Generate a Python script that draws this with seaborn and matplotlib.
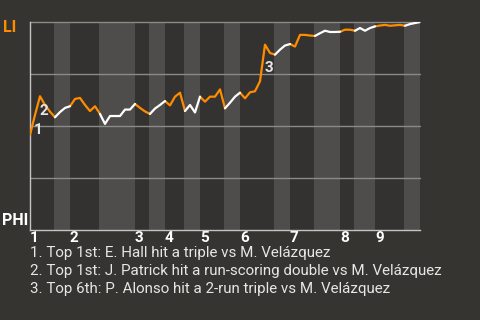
import numpy as np
import pandas as pd
import matplotlib
matplotlib.use("Agg")
import matplotlib.pyplot as plt
import seaborn as sns

# ---- data ----
win_prob = [45.8, 55.3, 64.3, 60.1, 56.9, 54.2,          # top 1st
            56.7, 58.7, 59.5,                            # bot 1st
            63.0, 63.5, 60.1, 57.2, 59.5, 55.8,          # top 2nd
            51.0, 54.8, 54.8, 54.8, 57.9, 57.9, 60.6,    # bot 2nd
            58.7, 57.0, 55.8,                            # top 3rd
            58.4, 60.1, 62.0,                            # bot 3rd
            59.9, 64.1, 66.0, 57.2,                      # top 4th
            60.1, 56.5, 64.1,                            # bot 4th
            61.7, 64.1, 64.1, 67.6, 58.5,                # top 5th
            61.2, 64.1, 66.0,                            # bot 5th
            63.3, 66.2, 66.7, 71.5, 89.1, 85.1, 84.3,    # top 6th
            86.7, 88.7, 89.4,                            # bot 6th
            88.2, 93.8, 93.8, 93.5, 93.3,                # top 7th
            94.6, 95.8, 95.2, 95.2, 95.3,                # bot 7th
            96.3, 96.3, 95.8,                            # top 8th
            97.1, 95.8, 97.1, 97.9,                      # bot 8th
            98.3, 98.6, 98.2, 98.4, 98.6, 98.2,          # top 9th
            99.0, 99.5, 100.0]                           # bot 9th
pa_per_half = [5, 3, 6, 7, 3, 3, 4, 3, 5, 3, 7, 3, 5, 5, 3, 4, 6, 3]
inning_labels = ["1", "2", "3", "4", "5", "6", "7", "8", "9"]
teams = ["LI", "PHI"]
event_index = [1, 2, 47]
event_marks = ["1", "2", "3"]
notes = ["1. Top 1st: E. Hall hit a triple vs M. Velázquez",
         "2. Top 1st: J. Patrick hit a run-scoring double vs M. Velázquez",
         "3. Top 6th: P. Alonso hit a 2-run triple vs M. Velázquez"]

# ---- style ----
BG = "#363430"
DARK = "#343230"
LIGHT = "#4e4d4b"
GRID = "#8a8a8a"
SPINE = "#c4c4c4"
ORANGE = "#ff8c00"
TEXT = "#e6e6e6"

sns.set_theme(style="dark")
plt.rcParams["font.family"] = ["Roboto", "DejaVu Sans"]

edges = np.concatenate([[0], np.cumsum(pa_per_half)])
rows = []
for h in range(len(pa_per_half)):
    for p in range(edges[h], edges[h + 1] + 1):
        rows.append(dict(pa=p, wp=win_prob[p], team=teams[h % 2], seg=h))
df = pd.DataFrame(rows)

fig = plt.figure(figsize=(4.8, 3.2), dpi=100, facecolor=BG)
ax = fig.add_axes([30 / 480, 90 / 320, 390 / 480, 208 / 320])
ax.set_facecolor(DARK)

for h in range(1, len(pa_per_half), 2):
    ax.axvspan(edges[h] - 0.2, edges[h + 1], color=LIGHT, lw=0, zorder=0)
for yv in [25, 50, 75, 100]:
    ax.axhline(yv, color=GRID, lw=1.0, zorder=1, clip_on=False)

sns.lineplot(data=df, x="pa", y="wp", hue="team", units="seg", estimator=None,
             palette={"LI": ORANGE, "PHI": "white"}, legend=False,
             lw=1.6, ax=ax, zorder=3)

for idx, mark in zip(event_index, event_marks):
    mx = (idx - 1 + idx) / 2
    my = (win_prob[idx - 1] + win_prob[idx]) / 2
    ax.annotate(mark, xy=(mx, my), xytext=(4.3, -3.8), textcoords="offset points",
                ha="center", va="center", color=TEXT, fontsize=11,
                fontweight="bold", zorder=4)

ax.set_xlim(0, edges[-1])
ax.set_ylim(0, 100)
ax.set_xlabel("")
ax.set_ylabel("")
ax.set_yticks([])
ax.set_xticks(edges[0:-1:2])
ax.set_xticklabels(inning_labels)
for lab in ax.get_xticklabels():
    lab.set_ha("left")
    lab.set_color("white")
    lab.set_fontweight("bold")
    lab.set_fontsize(11)
ax.tick_params(axis="x", length=0, pad=0.5)
ax.grid(False)
for s in ["top", "right"]:
    ax.spines[s].set_visible(False)
for s in ["left", "bottom"]:
    ax.spines[s].set_visible(True)
    ax.spines[s].set_color(SPINE)
    ax.spines[s].set_linewidth(1.0)

fig.text(3 / 480, 1 - 28 / 320, teams[0], color=ORANGE, fontsize=11.5,
         fontweight="bold", va="center", ha="left")
fig.text(2 / 480, 1 - 220.5 / 320, teams[1], color="white", fontsize=11.5,
         fontweight="bold", va="center", ha="left")

for k, note in enumerate(notes):
    fig.text(30 / 480, 1 - (253 + 18 * k) / 320, note, color=TEXT, fontsize=10.9,
             va="center", ha="left")

fig.savefig("out.png", dpi=100, facecolor=BG)
